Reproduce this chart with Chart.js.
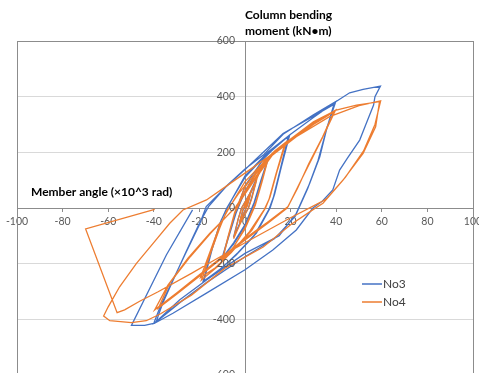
<!DOCTYPE html>
<html>
<head>
<meta charset="utf-8">
<script src="https://cdn.jsdelivr.net/npm/chart.js@4.4.0/dist/chart.umd.min.js"></script>
<style>
    html, body { margin: 0; padding: 0; background: #fff; overflow: hidden; }
    #wrap { width: 479px; height: 380px; }
</style>
</head>
<body>
<div id="wrap"><canvas id="hysteresisChart" width="479" height="380"></canvas></div>
<script>
const no3Angle = [
    0, 2.5, 1, -2.5, -1, 2.5, 1, -2.5, -1,
    5, 3, 1.5, -2, -5, -3, -1.5, 2, 5, 3, 1.5, -2, -5, -3, -1.5,
    2, 6, 10, 7, 4, 0, -5, -10, -7, -4, 0, 5, 10, 7, 4, 0, -5, -10, -7, -4,
    0, 8, 14, 19.6, 16, 13, 11, 5, -3, -10, -18.4, -15, -11, -8, 0, 8, 19, 15.5, 12.5, 10.5, 4, -4, -11, -18, -14.5, -10.5, -7.5,
    0, 10, 20, 30, 39.8, 36, 32.8, 28.4, 22.5, 15, 0, -16.9, -28.6, -38.9, -40, -37, -31.6, -26.4, -20, -17,
    -8.2, 0.6, 16.7, 30, 39, 35.5, 32, 27.5, 22, 13, 0, -16.9, -28.6, -39,
    -36, -31, -26, -20, -16, -8, 0, 8, 16.7, 30, 39.8, 45.9, 51.8, 59.4, 57, 56.4, 53, 50.3, 45, 41.5,
    38.5, 34, 29.8, 22.5, 12.2, 0, -16.9, -31.6, -39.6, -44, -49.8, -34.5, -23
];
const no3Moment = [
    0, 55, 10, -55, -10, 55, 10, -55, -10,
    100, 40, 0, -50, -105, -40, 0, 50, 100, 40, 0, -50, -105, -40, 0,
    50, 125, 175, 100, 20, -60, -125, -180, -100, -20, 60, 130, 172, 95, 15, -65, -130, -178, -95, -15,
    80, 175, 225, 262, 150, 50, 0, -90, -160, -215, -265, -160, -55, 0, 110, 180, 258, 140, 40, -5, -100, -170, -220, -262, -150, -45, 5,
    115, 200, 265, 325, 382, 290, 184, 89, -19, -100, -163, -259, -330, -408, -414, -350, -259, -169, -60, 5,
    77, 143, 268, 330, 372, 275, 170, 70, -30, -110, -175, -268, -340, -410,
    -340, -250, -160, -55, 5, 80, 140, 190, 265, 335, 382, 414, 426, 438, 400, 370, 300, 244, 180, 136,
    65, 25, 0, -79, -151, -222, -306, -378, -414, -422, -422, -169, -7
];

const no4Angle = [
    0, 2.5, 1, -2.5, -1, 2.5, 1, -2.5, -1,
    5, 3, 1.5, -2, -5, -3, -1.5, 2, 5, 3, 1.5, -2, -5, -3, -1.5,
    2, 6, 10, 7.5, 4.5, 0, -5, -10, -7.5, -4.5, 0, 5, 10, 7.5, 4.5, 0, -5, -10, -7.5, -4.5,
    0, 8, 13, 18.1, 14, 11, 9, 3, -5, -12, -19.1, -15, -11, -8, -3, 5, 12, 17.5, 13.5, 10.5, 8.5, 2, -6, -13, -19.5, -15, -11, -7,
    0, 10, 20, 30, 39.7, 35, 29.8, 24, 18.9, 10, 0, -10, -20, -30, -39.6, -33.8, -25, -15.5, -3.8, 5,
    12, 22.5, 30, 39, 34, 28, 23, 18.5, 10, 0, -10, -20, -30, -38, -33, -24, -15, -4, 5, 12,
    20, 30, 40, 48.9, 59, 57.3, 51.8, 43, 34.2, 30, 20, 8, -8.9, -23.5, -37, -43.3, -49.8, -59.3, -62, -60,
    -55, -47.6, -40.3, -33, -27.2, -16.9, -7.4, 2, 12.3, 22.5, 37.1, 50, 59.5, 57, 52, 44, 36, 33, 20, 0,
    -14.7, -23.5, -38.1, -46.2, -52.8, -56.1, -69.9, -39.6
];
const no4Moment = [
    0, 50, 8, -55, -8, 50, 8, -55, -8,
    100, 35, 0, -55, -110, -40, 0, 50, 98, 35, 0, -55, -110, -40, 0,
    45, 120, 175, 100, 15, -70, -140, -190, -110, -20, 60, 125, 172, 95, 10, -75, -140, -188, -105, -15,
    75, 165, 205, 238, 130, 40, 0, -80, -150, -210, -259, -160, -70, -10, 50, 130, 195, 232, 120, 30, -5, -85, -160, -215, -250, -150, -60, 0,
    95, 180, 245, 305, 352, 270, 184, 90, 5, -50, -110, -175, -240, -305, -366, -277, -180, -91, 5, 110,
    190, 256, 300, 345, 255, 160, 70, 0, -55, -115, -180, -245, -310, -360, -270, -175, -90, 5, 115, 195,
    248, 310, 352, 370, 382, 292, 196, 100, 17, -5, -60, -140, -217, -313, -380, -405, -412, -405, -388, -355,
    -283, -199, -127, -55, -7, 29, 83, 137, 196, 256, 328, 368, 385, 300, 205, 110, 35, 20, -35, -125,
    -193, -235, -301, -335, -366, -376, -75, -5
];

const seriesNames = ['No3', 'No4'];
const seriesColors = ['#4472C4', '#ED7D31'];

const angleRange = [-100, 100];
const momentRange = [-600, 600];

const FONT = "Lato, 'Open Sans', sans-serif";
const TICK_COLOR = '#595959';

document.addEventListener('DOMContentLoaded', function() {
    initHysteresisChart();
});

function toPoints(xs, ys) {
    return xs.map((x, i) => ({ x: x, y: ys[i] }));
}

// centred axes should not eat into the plot area
function collapseScale(scale) {
    if (scale.isHorizontal()) {
        scale.height = 0;
    } else {
        scale.width = 0;
    }
    scale.paddingLeft = 0;
    scale.paddingRight = 0;
    scale.paddingTop = 0;
    scale.paddingBottom = 0;
}

const plotExtras = {
    id: 'plotExtras',
    beforeDatasetsDraw(chart) {
        const ctx = chart.ctx;
        const a = chart.chartArea;
        ctx.save();
        ctx.strokeStyle = '#8c8c8c';
        ctx.lineWidth = 1;
        ctx.strokeRect(Math.round(a.left) + 0.5, Math.round(a.top) + 0.5,
            Math.round(a.right - a.left), Math.round(a.bottom - a.top));
        ctx.restore();
    },
    afterDraw(chart) {
        const ctx = chart.ctx;
        const xScale = chart.scales.x;
        const yScale = chart.scales.y;
        ctx.save();

        // moment tick labels sit just left of the vertical axis
        ctx.font = '10.5px ' + FONT;
        ctx.fillStyle = TICK_COLOR;
        ctx.textAlign = 'right';
        ctx.textBaseline = 'middle';
        const x0 = xScale.getPixelForValue(0) - 10;
        yScale.ticks.forEach(t => {
            ctx.fillText(String(t.value), x0, yScale.getPixelForValue(t.value));
        });

        // axis titles
        ctx.fillStyle = '#000';
        ctx.font = 'bold 12px ' + FONT;
        ctx.textAlign = 'left';
        ctx.fillText('Column bending', 245, 15);
        ctx.fillText('moment (kN\u2022m)', 245, 31.5);
        ctx.fillText('Member angle (\u00d710^3 rad)', 31, 192);

        // legend inside the plot
        ctx.font = '12px ' + FONT;
        ctx.fillStyle = '#404040';
        chart.data.datasets.forEach((ds, i) => {
            const y = 284 + i * 18;
            ctx.strokeStyle = ds.borderColor;
            ctx.lineWidth = 1.5;
            ctx.beginPath();
            ctx.moveTo(362, y);
            ctx.lineTo(382, y);
            ctx.stroke();
            ctx.fillText(ds.label, 383, y);
        });
        ctx.restore();
    }
};

function initHysteresisChart() {
    const ctx = document.getElementById('hysteresisChart');
    if (!ctx) return;

    window.hysteresisChart = new Chart(ctx, {
        type: 'scatter',
        data: {
            datasets: [{
                label: seriesNames[0],
                data: toPoints(no3Angle, no3Moment),
                borderColor: seriesColors[0],
                backgroundColor: seriesColors[0],
                borderWidth: 1.3,
                showLine: true,
                pointRadius: 0,
                tension: 0,
                order: 1
            }, {
                label: seriesNames[1],
                data: toPoints(no4Angle, no4Moment),
                borderColor: seriesColors[1],
                backgroundColor: seriesColors[1],
                borderWidth: 1.3,
                showLine: true,
                pointRadius: 0,
                tension: 0,
                order: 0
            }]
        },
        options: {
            responsive: false,
            animation: false,
            layout: {
                padding: { left: 17, right: 6, top: 41, bottom: 5 }
            },
            plugins: {
                legend: { display: false },
                tooltip: { enabled: false }
            },
            scales: {
                x: {
                    type: 'linear',
                    position: { y: 0 },
                    min: angleRange[0],
                    max: angleRange[1],
                    afterFit: collapseScale,
                    grid: {
                        drawOnChartArea: false,
                        drawTicks: true,
                        tickLength: 3,
                        color: '#8c8c8c'
                    },
                    border: { color: '#8c8c8c' },
                    ticks: {
                        stepSize: 20,
                        padding: 4,
                        maxRotation: 0,
                        autoSkip: false,
                        color: TICK_COLOR,
                        font: { family: FONT, size: 10.5 }
                    }
                },
                y: {
                    type: 'linear',
                    position: { x: 0 },
                    min: momentRange[0],
                    max: momentRange[1],
                    afterFit: collapseScale,
                    grid: {
                        color: '#d9d9d9',
                        drawTicks: false
                    },
                    border: { color: '#8c8c8c' },
                    ticks: {
                        stepSize: 200,
                        display: false
                    }
                }
            }
        },
        plugins: [plotExtras]
    });
}
</script>
</body>
</html>
